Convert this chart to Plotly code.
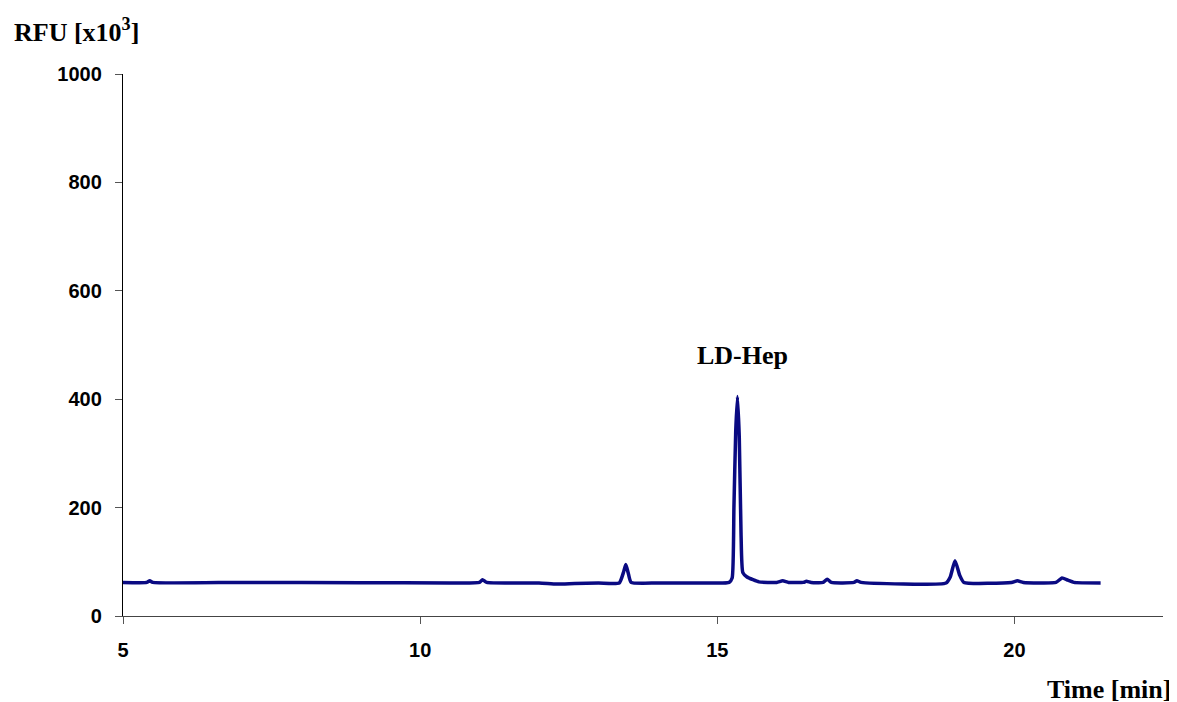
#!/usr/bin/env python3
# Electropherogram trace, RFU vs migration time

import plotly.graph_objects as go

# Trace points (time in min, RFU x10^3)
TIME_MIN = [
    5.0, 5.4, 5.45, 5.5, 7.0, 9.0, 10.5, 11.0, 11.05, 11.12,
    12.0, 12.3, 12.6, 13.0, 13.35, 13.42, 13.46, 13.5, 13.55, 14.0,
    14.8, 15.2, 15.25, 15.28, 15.31, 15.34, 15.37, 15.4, 15.43, 15.5,
    15.6, 15.7, 16.0, 16.1, 16.2, 16.45, 16.5, 16.58, 16.78, 16.85,
    16.92, 17.3, 17.35, 17.42, 18.85, 18.92, 19.0, 19.08, 19.15, 19.95,
    20.05, 20.15, 20.7, 20.8, 20.9, 21.0, 21.45,
]
RFU = [
    62, 62, 65, 62, 62, 61.5, 61, 62, 67, 62,
    61, 59, 60, 61, 61, 80, 95, 80, 62, 61,
    61, 62, 70, 200, 340, 405, 330, 150, 80, 72,
    67, 63, 62, 65, 62, 62, 64, 62, 62, 68,
    62, 62, 65, 62, 61, 72, 102, 75, 62, 62,
    65, 62, 62, 70, 66, 62, 61,
]

X_TICKS = [5, 10, 15, 20]
Y_TICKS = [0, 200, 400, 600, 800, 1000]

PEAK_LABEL = "LD-Hep"
PEAK_LABEL_POS = (15.43, 481)

TICK_FONT = dict(family="Liberation Sans, Arial", size=20, color="black")
TITLE_FONT = dict(family="Liberation Serif, Times New Roman", size=26, color="black")

fig = go.Figure(
    go.Scatter(
        x=TIME_MIN,
        y=RFU,
        mode="lines",
        line=dict(color="#0a0a82", width=3.5, shape="spline", smoothing=0.5),
        hoverinfo="x+y",
    )
)

fig.update_xaxes(
    range=[5, 22.5],
    tickvals=X_TICKS,
    ticktext=[f"<b>{t}</b>" for t in X_TICKS],
    ticks="outside",
    ticklen=7,
    tickcolor="#555",
    showline=True,
    linecolor="#444",
    linewidth=1.3,
    showgrid=False,
    zeroline=False,
    tickfont=TICK_FONT,
    ticklabelstandoff=9,
)
fig.update_yaxes(
    range=[0, 1000],
    tickvals=Y_TICKS,
    ticktext=[f"<b>{t}</b>" for t in Y_TICKS],
    ticks="outside",
    ticklen=7,
    tickcolor="#555",
    showline=True,
    linecolor="black",
    linewidth=1.3,
    showgrid=False,
    zeroline=False,
    tickfont=TICK_FONT,
    ticklabelstandoff=9,
)

fig.add_annotation(
    text="<b>RFU [x10<sup>3</sup>]</b>",
    xref="paper", yref="paper",
    x=-0.1067, y=1.081,
    xanchor="left", yanchor="middle",
    showarrow=False,
    font=TITLE_FONT,
)
fig.add_annotation(
    text="<b>Time [min]</b>",
    xref="paper", yref="paper",
    x=1.0096, y=-0.135,
    xanchor="right", yanchor="middle",
    showarrow=False,
    font=TITLE_FONT,
)
fig.add_annotation(
    text=f"<b>{PEAK_LABEL}</b>",
    x=PEAK_LABEL_POS[0], y=PEAK_LABEL_POS[1],
    xanchor="center", yanchor="middle",
    showarrow=False,
    font=TITLE_FONT,
)

# page body keeps its default 8px margin, so the figure is sized to fit
fig.update_layout(
    width=1169,
    height=694,
    margin=dict(l=115, r=14, t=66, b=86),
    plot_bgcolor="white",
    paper_bgcolor="white",
    showlegend=False,
)

fig.write_html("out.html")
